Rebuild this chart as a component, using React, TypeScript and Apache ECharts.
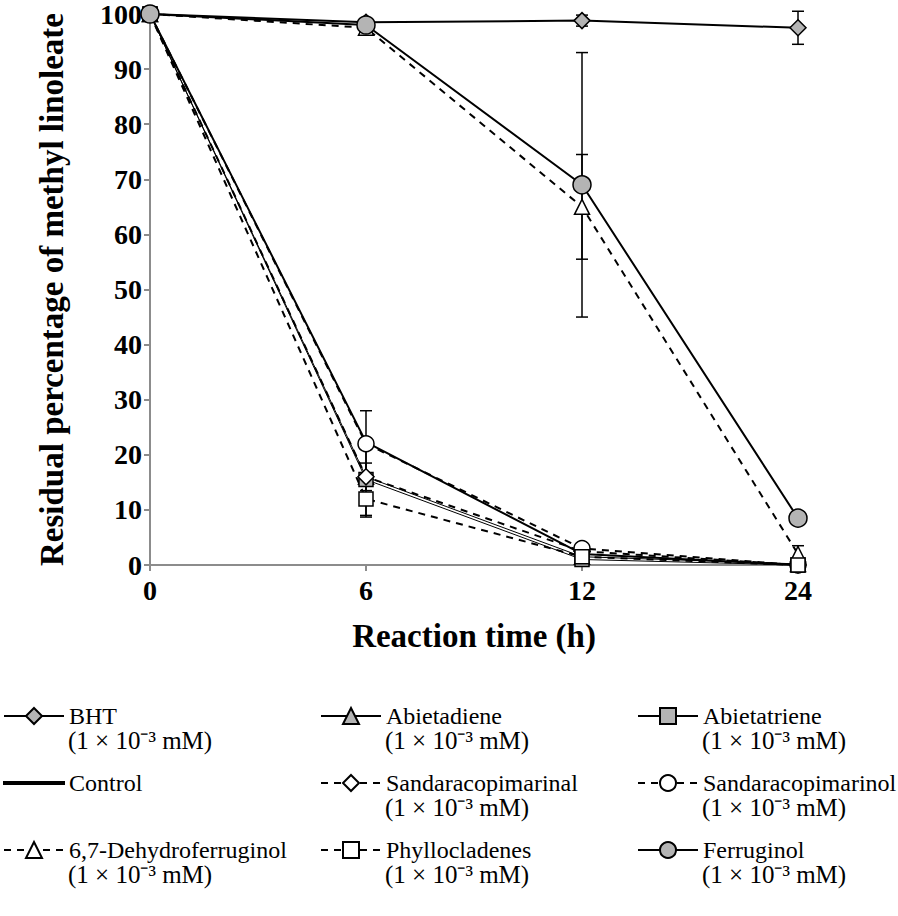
import React, { useEffect, useRef } from "react";
import * as echarts from "echarts";

const categories = ["0", "6", "12", "24"];

const names = [
  "BHT",
  "Abietadiene",
  "Abietatriene",
  "Control",
  "Sandaracopimarinal",
  "Sandaracopimarinol",
  "6,7-Dehydroferruginol",
  "Phyllocladenes",
  "Ferruginol",
];

const bhtValues = [100, 98.5, 98.8, 97.5];
const abietadieneValues = [100, 16, 1.5, 0.2];
const abietatrieneValues = [100, 15.5, 1, 0];
const controlValues = [100, 22.3, 2, 0];
const sandaracopimarinalValues = [100, 16, 2.5, 0];
const sandaracopimarinolValues = [100, 22, 3, 0];
const dehydroferruginolValues = [100, 97.5, 65, 2];
const phyllocladenesValues = [100, 12, 1.5, 0];
const ferruginolValues = [100, 98, 69, 8.5];

const bhtErrors = [0, 0.5, 1, 3];
const abietadieneErrors = [0, 2.5, 0.5, 0];
const abietatrieneErrors = [0, 1, 0.5, 0];
const controlErrors = [0, 0, 0, 0];
const sandaracopimarinalErrors = [0, 7, 1, 0];
const sandaracopimarinolErrors = [0, 6, 1, 0];
const dehydroferruginolErrors = [0, 1, 9.5, 1.5];
const phyllocladenesErrors = [0, 3.3, 0.5, 0];
const ferruginolErrors = [0, 0.5, 24, 1];

const subLabel = "(1 × 10⁻³ mM)";

const FONT = "Liberation Serif";

export default function App() {
  const ref = useRef<HTMLDivElement>(null);

  useEffect(() => {
    document.body.style.margin = "0";
    if (!ref.current) return;
    const chart = echarts.init(ref.current, null, { renderer: "svg" });

    const values = [
      bhtValues,
      abietadieneValues,
      abietatrieneValues,
      controlValues,
      sandaracopimarinalValues,
      sandaracopimarinolValues,
      dehydroferruginolValues,
      phyllocladenesValues,
      ferruginolValues,
    ];
    const errors = [
      bhtErrors,
      abietadieneErrors,
      abietatrieneErrors,
      controlErrors,
      sandaracopimarinalErrors,
      sandaracopimarinolErrors,
      dehydroferruginolErrors,
      phyllocladenesErrors,
      ferruginolErrors,
    ];

    const gray = "#b4b4b4";
    const styles = [
      { symbol: "diamond", size: 16, fill: gray, dash: "solid", width: 2 },
      { symbol: "triangle", size: 15, fill: gray, dash: "solid", width: 1 },
      { symbol: "rect", size: 14, fill: gray, dash: "solid", width: 1 },
      { symbol: "none", size: 0, fill: "#000", dash: "solid", width: 2 },
      { symbol: "diamond", size: 16, fill: "#fff", dash: [7, 6], width: 2 },
      { symbol: "circle", size: 16, fill: "#fff", dash: [7, 6], width: 2 },
      { symbol: "triangle", size: 15, fill: "#fff", dash: [7, 6], width: 2 },
      { symbol: "rect", size: 14, fill: "#fff", dash: [7, 6], width: 2 },
      { symbol: "circle", size: 18, fill: gray, dash: "solid", width: 2 },
    ];

    const errorData: number[][] = [];
    values.forEach((vals, s) => {
      vals.forEach((v, i) => {
        const e = errors[s][i];
        if (e > 0) errorData.push([i, v - e, v + e]);
      });
    });

    const lineSeries = names.map((name, s) => ({
      name,
      type: "line",
      data: values[s],
      symbol: styles[s].symbol,
      symbolSize: styles[s].size,
      z: 3,
      lineStyle: { color: "#000", width: styles[s].width, type: styles[s].dash },
      itemStyle: { color: styles[s].fill, borderColor: "#000", borderWidth: 1.5, opacity: 1 },
    }));

    const errorSeries = {
      type: "custom",
      z: 2,
      silent: true,
      data: errorData,
      renderItem: (params: any, api: any) => {
        const x = api.value(0);
        const lo = api.coord([x, api.value(1)]);
        const hi = api.coord([x, api.value(2)]);
        const w = 6;
        const st = { stroke: "#000", lineWidth: 1.5 };
        return {
          type: "group",
          children: [
            { type: "line", shape: { x1: lo[0], y1: lo[1], x2: hi[0], y2: hi[1] }, style: st },
            { type: "line", shape: { x1: lo[0] - w, y1: lo[1], x2: lo[0] + w, y2: lo[1] }, style: st },
            { type: "line", shape: { x1: hi[0] - w, y1: hi[1], x2: hi[0] + w, y2: hi[1] }, style: st },
          ],
        };
      },
    };

    const colX = [3, 320, 637];
    const rowY = [716, 783, 850];
    const legends = names.map((name, i) => {
      const isControl = name === "Control";
      return {
        data: [name],
        left: colX[i % 3],
        top: rowY[Math.floor(i / 3)] - 14,
        orient: "horizontal",
        padding: 0,
        itemGap: 0,
        itemWidth: 60,
        itemHeight: isControl ? 2 : 20,
        icon: isControl ? "rect" : undefined,
        selectedMode: false,
        textStyle: { fontFamily: FONT, fontSize: 24, color: "#000", lineHeight: 28, padding: [0, 0, 0, 0] },
      };
    });

    const graphics: any[] = [];
    names.forEach((name, i) => {
      if (name === "Control") return;
      graphics.push({
        type: "text",
        left: colX[i % 3] + 65,
        top: rowY[Math.floor(i / 3)] + 27 - 15,
        style: { text: subLabel, font: `25px "${FONT}"`, fill: "#000" },
      });
    });

    chart.setOption({
      animation: false,
      backgroundColor: "#fff",
      grid: { left: 150, right: 100, top: 12, bottom: 351, containLabel: false },
      xAxis: {
        type: "category",
        data: categories,
        boundaryGap: false,
        name: "Reaction time (h)",
        nameLocation: "middle",
        nameGap: 54,
        nameTextStyle: { fontFamily: FONT, fontSize: 33, fontWeight: "bold", color: "#000" },
        axisLine: { lineStyle: { color: "#8c8c8c", width: 2 } },
        axisTick: { show: true, alignWithLabel: true, length: 6, lineStyle: { color: "#8c8c8c", width: 2 } },
        axisLabel: { fontFamily: FONT, fontSize: 28, fontWeight: "bold", color: "#000", margin: 11 },
        splitLine: { show: false },
      },
      yAxis: {
        type: "value",
        min: 0,
        max: 100,
        interval: 10,
        name: "Residual percentage of methyl linoleate",
        nameLocation: "middle",
        nameGap: 82,
        nameTextStyle: { fontFamily: FONT, fontSize: 33, fontWeight: "bold", color: "#000" },
        axisLine: { show: true, lineStyle: { color: "#8c8c8c", width: 2 } },
        axisTick: { show: true, length: 6, lineStyle: { color: "#8c8c8c", width: 2 } },
        axisLabel: { fontFamily: FONT, fontSize: 28, fontWeight: "bold", color: "#000", margin: 8 },
        splitLine: { show: false },
      },
      legend: legends,
      graphic: graphics,
      series: [errorSeries, ...lineSeries],
    });

    return () => chart.dispose();
  }, []);

  return <div ref={ref} style={{ width: 898, height: 916 }} />;
}
